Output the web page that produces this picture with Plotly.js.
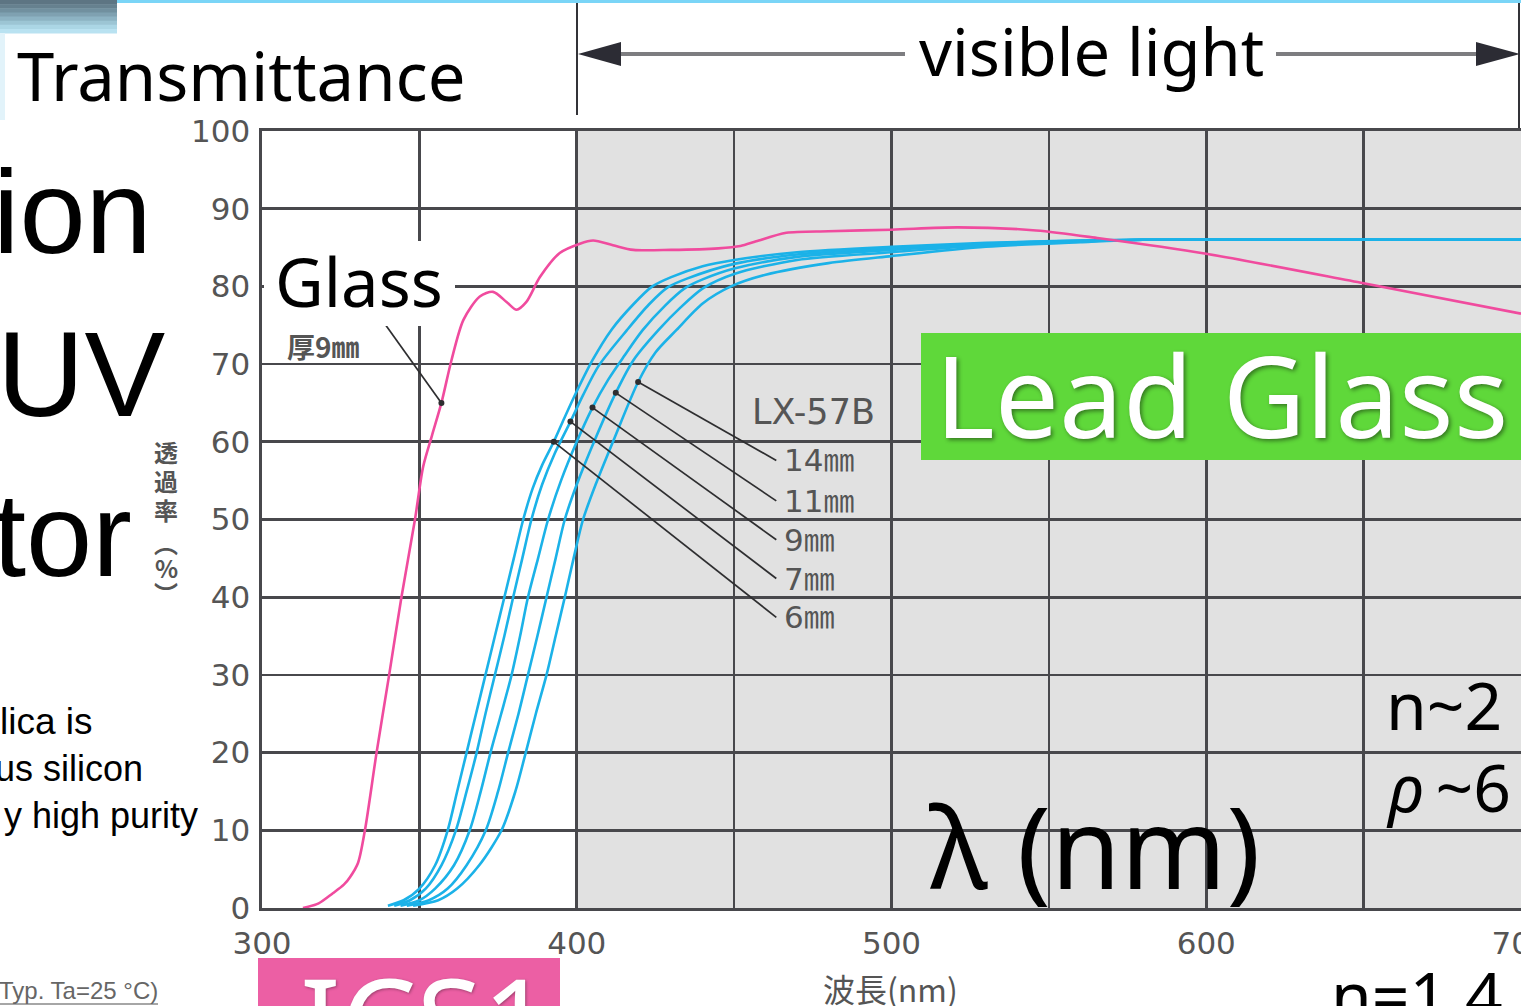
<!DOCTYPE html>
<html>
<head>
<meta charset="utf-8">
<script src="https://cdn.plot.ly/plotly-3.0.1.min.js"></script>
<style>
  html, body { margin: 0; padding: 0; background: #fff; overflow: hidden; }
  #chart { width: 1521px; height: 1006px; }
</style>
</head>
<body>
<div id="chart"></div>
<script>
// ---------- Transmittance data (wavelength nm -> %) ----------
const glassNm = [313, 318, 322.5, 326, 328, 330.5, 332.7, 336.4, 340.4, 344.3, 348.6, 351.2, 354, 357, 360.2, 364, 369.2, 373.4, 377.7, 380.9, 384, 388.3, 394.6, 401, 405.2, 411.5, 418, 430, 445, 452, 457, 466.6, 480, 500, 521, 546, 566, 600, 650, 700];
const glassT  = [0, 0.6, 1.9, 3.0, 4.0, 5.8, 10, 20, 30, 40, 50, 56.8, 60.8, 65, 70.5, 75.7, 78.7, 79.3, 78.0, 77.0, 78.0, 81.2, 84.3, 85.5, 85.9, 85.3, 84.7, 84.7, 84.9, 85.2, 85.8, 86.9, 87.1, 87.3, 87.6, 87.2, 86.2, 84.2, 80.4, 76.5];

const lx6Nm  = [340, 345, 350, 355, 359, 362, 365, 368, 371, 374, 377, 380, 383, 386, 389, 392.7, 396, 400, 405, 411, 418, 424, 430, 440, 450, 470, 500, 530, 560, 580, 700];
const lx6T   = [0.3, 1.0, 2.5, 5.5, 10, 15, 20, 25, 30, 35, 40, 45, 50, 54, 57, 60, 63, 66.5, 70.5, 74.4, 77.7, 80, 81.2, 82.6, 83.4, 84.4, 85.1, 85.6, 85.9, 86, 86];

const lx7Nm  = [342, 347, 352, 357, 361.6, 365, 368.2, 371, 374, 377, 379.8, 382.7, 385.6, 389, 393, 398, 402, 407, 416, 423, 429, 435, 450, 470, 500, 530, 560, 580, 700];
const lx7T   = [0.3, 1.0, 2.5, 5.5, 10, 15, 20, 25, 30, 35, 40, 45, 50, 54.5, 58.5, 62.6, 66, 69.8, 74.4, 77.7, 79.9, 81, 82.9, 84.1, 84.9, 85.5, 85.9, 86, 86];

const lx9Nm  = [344, 350, 355, 361, 366, 369.5, 372.6, 376, 379.3, 382, 384.5, 387.7, 390.9, 395, 400, 405, 410, 415, 421, 428, 434.5, 440, 450, 470, 500, 530, 560, 580, 700];
const lx9T   = [0.3, 1.0, 2.5, 5.5, 10, 15, 20, 25, 30, 35, 40, 45, 50, 55, 60, 64.4, 68, 71, 74.4, 77.5, 79.8, 80.9, 82.3, 83.8, 84.7, 85.4, 85.8, 86, 86];

const lx11Nm = [346, 353, 359, 365, 371.1, 375, 378.2, 381.5, 384.5, 387.5, 390.4, 393.3, 396.2, 400, 406, 412.4, 418, 426, 433, 440.3, 450, 470, 500, 530, 560, 580, 700];
const lx11T  = [0.3, 1.0, 2.5, 5.5, 10, 15, 20, 25, 30, 35, 40, 45, 50, 54.5, 60.5, 66.3, 70.5, 74.4, 77.3, 79.8, 81.6, 83.4, 84.4, 85.3, 85.8, 86, 86];

const lx14Nm = [348, 356, 362, 369, 376.1, 380.5, 383.8, 387, 390.4, 393.3, 396.2, 399, 402, 406, 412, 419.5, 425, 431.7, 440, 449, 460, 480, 500, 530, 560, 580, 700];
const lx14T  = [0.3, 1.0, 2.5, 5.5, 10, 15, 20, 25, 30, 35, 40, 45, 50, 54.5, 60.5, 67.7, 71.5, 74.4, 77.8, 80, 81.5, 83, 83.9, 85.1, 85.7, 86, 86];

const thicknessLabels = ['6㎜', '7㎜', '9㎜', '11㎜', '14㎜'];
const calloutNm       = [392.7, 398, 405, 412.4, 419.5];   // where each callout touches its curve
const calloutLabelT   = [37.4, 42.4, 47.4, 52.4, 57.6];    // label row heights (%)
const glassCalloutNm  = 357;

const xTickVals = [300, 350, 400, 450, 500, 550, 600, 650, 700];
const xTickText = ['300', '', '400', '', '500', '', '600', '', '700'];
const yTickVals = [0, 10, 20, 30, 40, 50, 60, 70, 80, 90, 100];

// ---------- page geometry ----------
const W = 1521, H = 1006;
const M = { l: 262, r: 0, t: 131, b: 98 };
const PW = W - M.l - M.r, PH = H - M.t - M.b;
const px = X => (X - M.l) / PW;           // page pixel -> paper x
const py = Y => (H - M.b - Y) / PH;       // page pixel -> paper y

function interp(xs, ys, x) {
  for (let i = 1; i < xs.length; i++) {
    if (x <= xs[i]) {
      const f = (x - xs[i - 1]) / (xs[i] - xs[i - 1]);
      return ys[i - 1] + f * (ys[i] - ys[i - 1]);
    }
  }
  return ys[ys.length - 1];
}

const PINK = '#f04b9e';
const BLUE = '#1bb2e8';
const GRID = '#48484c';
const LABEL = '#555555';

// ---------- traces ----------
const blueSets = [[lx6Nm, lx6T], [lx7Nm, lx7T], [lx9Nm, lx9T], [lx11Nm, lx11T], [lx14Nm, lx14T]];
const traces = [];

blueSets.forEach((s, i) => {
  traces.push({
    x: s[0], y: s[1], type: 'scatter', mode: 'lines', name: 'LX-57B ' + thicknessLabels[i],
    line: { color: BLUE, width: 2.6, shape: 'spline', smoothing: 0.8 }, hoverinfo: 'skip'
  });
});
traces.push({
  x: glassNm, y: glassT, type: 'scatter', mode: 'lines', name: '厚9㎜',
  line: { color: PINK, width: 2.6, shape: 'spline', smoothing: 0.8 }, hoverinfo: 'skip'
});

// callout leaders for the LX-57B thicknesses
const labelNm = 463.4;
blueSets.forEach((s, i) => {
  const tDot = interp(s[0], s[1], calloutNm[i]);
  traces.push({
    x: [labelNm, calloutNm[i]], y: [calloutLabelT[i], tDot], type: 'scatter', mode: 'lines',
    line: { color: '#2e2e30', width: 1.7 }, hoverinfo: 'skip'
  });
  traces.push({
    x: [calloutNm[i]], y: [tDot], type: 'scatter', mode: 'markers',
    marker: { color: '#2e2e30', size: 6 }, hoverinfo: 'skip'
  });
});
// callout leader for the glass curve
const glassDotT = interp(glassNm, glassT, glassCalloutNm);
traces.push({
  x: [332.3, glassCalloutNm], y: [79, glassDotT], type: 'scatter', mode: 'lines',
  line: { color: '#2e2e30', width: 1.7 }, hoverinfo: 'skip'
});
traces.push({
  x: [glassCalloutNm], y: [glassDotT], type: 'scatter', mode: 'markers',
  marker: { color: '#2e2e30', size: 6 }, hoverinfo: 'skip'
});

// ---------- shapes ----------
const shapes = [];
// grey band over the visible range
shapes.push({ type: 'rect', xref: 'x', yref: 'y', x0: 400, x1: 700, y0: 0, y1: 100,
  fillcolor: '#e1e1e1', line: { width: 0 }, layer: 'below' });

function rectPx(x0, y0, x1, y1, color) {
  shapes.push({ type: 'rect', xref: 'paper', yref: 'paper', x0: px(x0), x1: px(x1), y0: py(y1), y1: py(y0),
    fillcolor: color, line: { width: 0 }, layer: 'above' });
}
function linePx(x0, y0, x1, y1, color, width) {
  shapes.push({ type: 'line', xref: 'paper', yref: 'paper', x0: px(x0), x1: px(x1), y0: py(y0), y1: py(y1),
    line: { color: color, width: width }, layer: 'above' });
}
function triPx(pts, color) {
  const d = 'M ' + pts.map(p => px(p[0]) + ',' + py(p[1])).join(' L ') + ' Z';
  shapes.push({ type: 'path', xref: 'paper', yref: 'paper', path: d, fillcolor: color,
    line: { width: 0 }, layer: 'above' });
}

// header strip and corner gradient
rectPx(0, 0, W, 3, '#7ad5f7');
const grad = ['#5d7583', '#66818f', '#71909f', '#7fa1b1', '#8db3c3', '#9cc5d4', '#abd6e5', '#b9e2f1'];
grad.forEach((c, i) => rectPx(0, i * 33 / grad.length, 117, (i + 1) * 33 / grad.length + 0.5, c));
rectPx(0, 33, 5, 120, '#e2f3fa');

// "visible light" span marker
linePx(577, 3, 577, 115, '#333338', 2);
linePx(1519, 3, 1519, 128, '#333338', 2);
linePx(615, 54, 905, 54, '#7d7d80', 4);
linePx(1276, 54, 1480, 54, '#7d7d80', 4);
triPx([[578, 54], [621, 42], [621, 66]], '#2c2c34');
triPx([[1520, 54], [1476, 42], [1476, 66]], '#2c2c34');

// white label patch on the chart
rectPx(264, 241, 455, 326, '#ffffff');
// coloured tags
rectPx(921, 333, 1521, 460, '#5fd83a');
rectPx(258, 958, 560, 1006, '#ec5fa4');
// underline of the measurement condition note
linePx(0, 1004, 158, 1004, '#888888', 1.5);

// ---------- annotations ----------
const ann = [];
function txt(text, x, y, font, xanchor, extra) {
  ann.push(Object.assign({
    text: text, xref: 'paper', yref: 'paper', x: px(x), y: py(y),
    xanchor: xanchor || 'center', yanchor: 'middle', showarrow: false, font: font,
    borderpad: 0, borderwidth: 0
  }, extra || {}));
}
const NOTO = 'Noto Sans, Roboto, sans-serif';
const ARIAL = 'Liberation Sans, Arial, sans-serif';
const DJ = 'DejaVu Sans, Noto Sans CJK JP, sans-serif';
const CJK = 'Noto Sans CJK JP, sans-serif';

txt('Transmittance', 17, 75, { family: NOTO, size: 67, color: '#000' }, 'left');
txt('visible light', 1091, 51, { family: NOTO, size: 65, color: '#000' }, 'center');
txt('Glass', 275, 281, { family: NOTO, size: 67, color: '#000' }, 'left');
txt('Lead Glass', 935, 393, { family: NOTO, size: 114, color: '#ffffff',
  shadow: '2px 2px 4px rgba(0,0,0,0.45)' }, 'left');
txt('n~2', 1502, 704, { family: NOTO, size: 66, color: '#000' }, 'right');
txt('<i>ρ</i>\u2009~6', 1511, 786, { family: NOTO, size: 66, color: '#000' }, 'right');
txt('λ (nm)', 1094, 845, { family: NOTO, size: 113, color: '#000' }, 'center');
txt('n=1.4', 1331, 994, { family: NOTO, size: 66, color: '#000' }, 'left');
txt('ICS1', 300, 1019, { family: NOTO, size: 120, color: '#ffffff',
  shadow: '1px 1px 3px rgba(0,0,0,0.35)' }, 'left');

// slide heading fragments on the left
txt('ion', 152, 211, { family: ARIAL, size: 119, color: '#000' }, 'right');
txt('UV', 165, 374, { family: ARIAL, size: 121, color: '#000' }, 'right');
txt('tor', 132, 534, { family: ARIAL, size: 119, color: '#000' }, 'right');
txt('lica is', 93, 721, { family: ARIAL, size: 37, color: '#000' }, 'right');
txt('us silicon', 143, 768, { family: ARIAL, size: 36, color: '#000' }, 'right');
txt('y high purity', 198, 815, { family: ARIAL, size: 36, color: '#000' }, 'right');
txt('(Typ. Ta=25 °C)', 158, 990, { family: ARIAL, size: 24, color: '#666' }, 'right');

// chart labels
txt('厚9㎜', 323, 346, { family: CJK, size: 28, color: LABEL, weight: 700 }, 'center');
txt('LX-57B', 813, 412, { family: DJ, size: 35, color: LABEL }, 'center');
thicknessLabels.forEach((t, i) => {
  ann.push({ text: t, xref: 'x', yref: 'y', x: 465.8, y: calloutLabelT[i], xanchor: 'left', yanchor: 'middle',
    showarrow: false, font: { family: DJ, size: 31, color: LABEL }, borderpad: 0, borderwidth: 0 });
});
txt('波長(nm)', 890, 988, { family: CJK, size: 32, color: LABEL }, 'center');
// vertical axis caption, one glyph per row
const yCaption = ['透', '過', '率', '︵', '%', '︶'];
const yCaptionRows = [451, 480, 509, 542, 567, 592];
yCaption.forEach((c, i) => txt(c, 166, yCaptionRows[i], { family: CJK, size: 24, color: LABEL, weight: 700 }, 'center'));

// ---------- layout ----------
const layout = {
  width: W, height: H,
  margin: M,
  paper_bgcolor: '#ffffff', plot_bgcolor: '#ffffff',
  showlegend: false,
  xaxis: {
    range: [300, 700], tickvals: xTickVals, ticktext: xTickText,
    showgrid: true, gridcolor: GRID, gridwidth: 2.6, zeroline: false,
    showline: true, linecolor: GRID, linewidth: 2.6, mirror: true,
    ticks: '', ticklabelstandoff: 6, ticklabeloverflow: 'allow',
    tickfont: { family: DJ, size: 31, color: LABEL }, fixedrange: true
  },
  yaxis: {
    range: [0, 100], tickvals: yTickVals,
    showgrid: true, gridcolor: GRID, gridwidth: 2.6, zeroline: false,
    showline: true, linecolor: GRID, linewidth: 2.6, mirror: true,
    ticks: '', ticklabelstandoff: 3,
    tickfont: { family: DJ, size: 31, color: LABEL }, fixedrange: true
  },
  shapes: shapes,
  annotations: ann
};

Plotly.newPlot('chart', traces, layout, { displayModeBar: false, staticPlot: true });
</script>
</body>
</html>
